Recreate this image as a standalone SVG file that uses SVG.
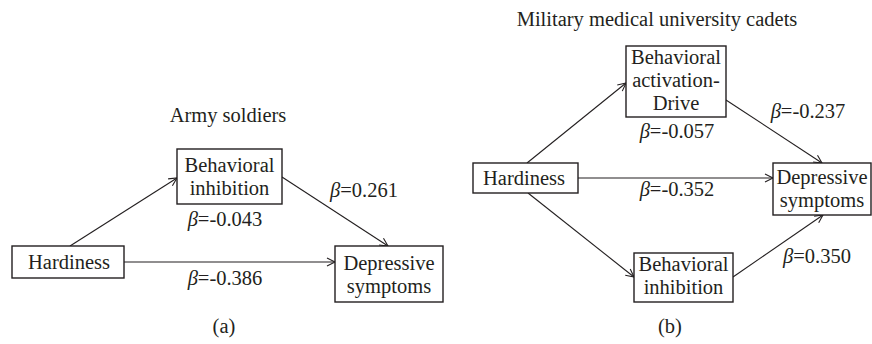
<svg xmlns="http://www.w3.org/2000/svg" width="872" height="344" viewBox="0 0 872 344">
<style>
text{font-family:"Liberation Serif","DejaVu Serif",serif;font-size:20.5px;fill:#231f20;text-anchor:middle}
.box{fill:#fff;stroke:#231f20;stroke-width:1.4}
.edge{stroke:#231f20;stroke-width:1.1;fill:none;marker-end:url(#ah)}
.b{font-style:italic}
</style>
<defs>
<marker id="ah" markerWidth="12" markerHeight="12" refX="10" refY="5" orient="auto" markerUnits="userSpaceOnUse">
<polyline points="2,1 10,5 2,9" fill="none" stroke="#231f20" stroke-width="1.1"/>
</marker>
</defs>
<rect width="872" height="344" fill="#fff"/>
<g id="connectors">
<line class="edge" x1="70" y1="246" x2="177" y2="178"/>
<line class="edge" x1="282" y1="177" x2="388" y2="246"/>
<line class="edge" x1="124" y1="262" x2="335" y2="262"/>
<line class="edge" x1="527" y1="163" x2="626" y2="83"/>
<line class="edge" x1="726" y1="100" x2="822" y2="163"/>
<line class="edge" x1="578" y1="178" x2="773" y2="178"/>
<line class="edge" x1="528" y1="193" x2="634" y2="277"/>
<line class="edge" x1="733" y1="277" x2="823" y2="215"/>
</g>
<g id="title-a"><text x="228" y="122">Army soldiers</text></g>
<g id="a-behav-inhib">
<rect class="box" x="177" y="149" width="105" height="55"/>
<text x="229.5" y="172">Behavioral</text>
<text x="229.5" y="195">inhibition</text>
</g>
<g id="a-hardiness">
<rect class="box" x="12" y="246" width="112" height="32"/>
<text x="69" y="269">Hardiness</text>
</g>
<g id="a-depressive">
<rect class="box" x="335" y="246" width="108" height="56"/>
<text x="389" y="270">Depressive</text>
<text x="389" y="293">symptoms</text>
</g>
<g id="labels-a">
<text x="225" y="226"><tspan class="b">β</tspan>=-0.043</text>
<text x="225" y="285"><tspan class="b">β</tspan>=-0.386</text>
<text x="364" y="197"><tspan class="b">β</tspan>=0.261</text>
<text x="224" y="333">(a)</text>
</g>
<g id="title-b"><text x="657" y="26">Military medical university cadets</text></g>
<g id="b-bad">
<rect class="box" x="626" y="46" width="100" height="71"/>
<text x="676" y="64">Behavioral</text>
<text x="676" y="87">activation-</text>
<text x="676" y="110">Drive</text>
</g>
<g id="b-hardiness">
<rect class="box" x="473" y="163" width="105" height="30"/>
<text x="524" y="185">Hardiness</text>
</g>
<g id="b-depressive">
<rect class="box" x="773" y="163" width="98" height="52"/>
<text x="822" y="184">Depressive</text>
<text x="822" y="207">symptoms</text>
</g>
<g id="b-behav-inhib">
<rect class="box" x="634" y="253" width="99" height="49"/>
<text x="683.5" y="271">Behavioral</text>
<text x="683.5" y="294">inhibition</text>
</g>
<g id="labels-b">
<text x="677" y="138"><tspan class="b">β</tspan>=-0.057</text>
<text x="808" y="118"><tspan class="b">β</tspan>=-0.237</text>
<text x="677" y="196"><tspan class="b">β</tspan>=-0.352</text>
<text x="817" y="263"><tspan class="b">β</tspan>=0.350</text>
<text x="670" y="333">(b)</text>
</g>
</svg>
